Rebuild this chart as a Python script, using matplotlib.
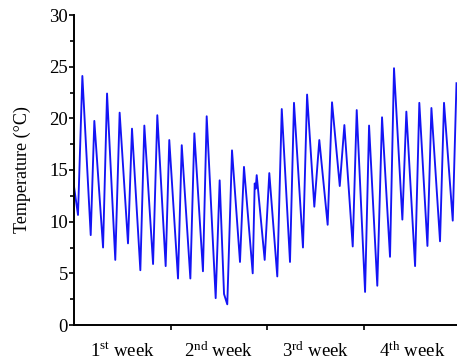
import matplotlib
matplotlib.use('Agg')
import matplotlib.pyplot as plt
from matplotlib.ticker import MultipleLocator

plt.rcParams['font.family'] = ['Liberation Serif', 'DejaVu Serif']
plt.rcParams['mathtext.fontset'] = 'custom'
plt.rcParams['mathtext.rm'] = 'Liberation Serif'
plt.rcParams['mathtext.it'] = 'Liberation Serif:italic'
plt.rcParams['mathtext.bf'] = 'Liberation Serif:bold'

# time in days since start of month, temperature in degC (daily extremes)
days = [0.00, 0.32, 0.67, 1.34, 1.63, 2.33, 2.65, 3.31, 3.66, 4.33, 4.65, 5.32,
        5.64, 6.34, 6.68, 7.35, 7.64, 8.34, 8.64, 9.33, 9.65, 10.34, 10.64, 11.36,
        11.68, 12.03, 12.29, 12.67, 13.31, 13.63, 14.33, 14.49, 14.57, 14.65, 15.29,
        15.66, 16.30, 16.66, 17.32, 17.64, 18.36, 18.69, 19.27, 19.67, 20.34, 20.69,
        21.31, 21.68, 22.35, 22.67, 23.34, 23.66, 24.32, 24.70, 25.34, 25.66, 26.33,
        26.65, 27.35, 27.69, 28.34, 28.66, 29.35, 29.67, 30.37, 30.67]
temps = [13.4, 10.65, 24.1, 8.7, 19.75, 7.5, 22.4, 6.3, 20.55, 7.9, 19.0, 5.3,
         19.3, 5.9, 20.3, 5.7, 17.9, 4.5, 17.4, 4.5, 18.55, 5.2, 20.2, 2.6,
         14.0, 3.0, 2.0, 16.9, 6.1, 15.3, 5.0, 13.7, 13.2, 14.5, 6.3,
         14.7, 4.7, 20.9, 6.1, 21.5, 7.5, 22.3, 11.45, 17.9, 9.7, 21.55,
         13.45, 19.35, 7.6, 20.8, 3.2, 19.3, 3.8, 20.1, 6.6, 24.85, 10.2,
         20.65, 5.7, 21.5, 7.65, 21.0, 8.1, 21.5, 10.1, 23.4]

week_ticks = [7.75, 15.5, 23.25]
week_label_pos = [3.875, 11.625, 19.375, 27.125]
week_labels = [r'1$^{\mathrm{st}}$ week', r'2$^{\mathrm{nd}}$ week',
               r'3$^{\mathrm{rd}}$ week', r'4$^{\mathrm{th}}$ week']
y_ticks = [0, 5, 10, 15, 20, 25, 30]

fig = plt.figure(figsize=(4.57, 3.62), dpi=100)
ax = fig.add_axes([74 / 457, 37 / 362, 386.6 / 457, 310 / 362])
ax.plot(days, temps, color='#1414f5', lw=1.35, solid_joinstyle='round')

ax.set_xlim(0, 31)
ax.set_ylim(0, 30)
for s in ['top', 'right']:
    ax.spines[s].set_visible(False)
for s in ['left', 'bottom']:
    ax.spines[s].set_linewidth(1.4)
    ax.spines[s].set_color('black')

ax.set_yticks(y_ticks)
ax.yaxis.set_minor_locator(MultipleLocator(2.5))
ax.tick_params(axis='y', which='major', direction='out', length=3.5, width=1.2,
               labelsize=13.5, pad=1)
ax.tick_params(axis='y', which='minor', direction='out', length=3.0, width=1.2)

ax.set_xticks(week_ticks)
ax.set_xticklabels([])
ax.set_xticks(week_label_pos, minor=True)
ax.set_xticklabels(week_labels, minor=True)
ax.tick_params(axis='x', which='major', direction='out', length=3.5, width=1.2)
ax.tick_params(axis='x', which='minor', length=0, labelsize=13.5, pad=12)

ax.set_ylabel('Temperature (°C)', fontsize=13, labelpad=13)

fig.savefig('out.png', dpi=100)
